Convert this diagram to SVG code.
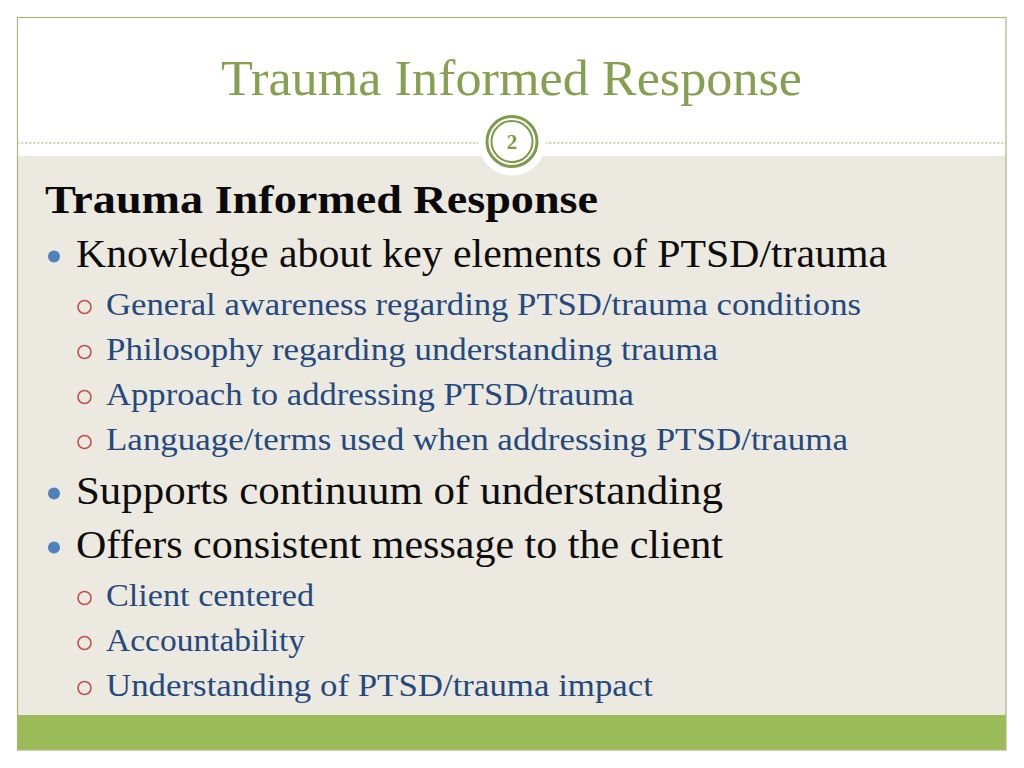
<svg xmlns="http://www.w3.org/2000/svg" width="1024" height="768" viewBox="0 0 1024 768">
<style>
.t{font-family:"Liberation Serif","Times New Roman",serif}
.title{font-size:50px;fill:#86a052}
.head{font-size:40px;font-weight:bold;fill:#0a0a0a}
.l1{font-size:40px;fill:#0d0d0d}
.l2{font-size:31px;fill:#24497f}
.dot{fill:#4f81bd}
.ring{fill:none;stroke:#c0504d;stroke-width:1.6}
</style>
<rect width="1024" height="768" fill="#ffffff"/>
<rect x="17" y="156" width="989" height="559" fill="#ece9e0"/>
<rect x="17" y="715" width="989" height="35" fill="#9bbb59"/>
<line x1="17" y1="143" x2="1006" y2="143" stroke="#a9b97e" stroke-width="1.2" stroke-dasharray="2.5 1.5"/>
<rect x="17.5" y="17.5" width="988.5" height="732.5" fill="none" stroke="#a8b87c" stroke-width="1.2"/>
<g id="pagenum">
<circle cx="512" cy="141.5" r="34" fill="#ffffff"/>
<circle cx="512" cy="141.5" r="25" fill="none" stroke="#7f9a48" stroke-width="3"/>
<circle cx="512" cy="141.5" r="20.5" fill="none" stroke="#7f9a48" stroke-width="2"/>
<text class="t" x="512" y="149" font-size="21" font-weight="bold" fill="#7f9a48" text-anchor="middle">2</text>
</g>
<g id="title">
<text class="t title" x="221" y="95" textLength="581" lengthAdjust="spacingAndGlyphs">Trauma Informed Response</text>
</g>
<g id="body">
<text class="t head" x="45" y="213" textLength="553" lengthAdjust="spacingAndGlyphs">Trauma Informed Response</text>

<circle class="dot" cx="54" cy="256.5" r="6"/>
<text class="t l1" x="76" y="267" textLength="811" lengthAdjust="spacingAndGlyphs">Knowledge about key elements of PTSD/trauma</text>

<circle class="ring" cx="84.5" cy="307" r="6.5"/>
<text class="t l2" x="106" y="315" textLength="755" lengthAdjust="spacingAndGlyphs">General awareness regarding PTSD/trauma conditions</text>
<circle class="ring" cx="84.5" cy="352" r="6.5"/>
<text class="t l2" x="106" y="360" textLength="612" lengthAdjust="spacingAndGlyphs">Philosophy regarding understanding trauma</text>
<circle class="ring" cx="84.5" cy="397" r="6.5"/>
<text class="t l2" x="106" y="405" textLength="528" lengthAdjust="spacingAndGlyphs">Approach to addressing PTSD/trauma</text>
<circle class="ring" cx="84.5" cy="442" r="6.5"/>
<text class="t l2" x="106" y="450" textLength="742" lengthAdjust="spacingAndGlyphs">Language/terms used when addressing PTSD/trauma</text>

<circle class="dot" cx="54" cy="493.5" r="6"/>
<text class="t l1" x="76" y="504" textLength="647" lengthAdjust="spacingAndGlyphs">Supports continuum of understanding</text>
<circle class="dot" cx="54" cy="547.5" r="6"/>
<text class="t l1" x="76" y="558" textLength="647" lengthAdjust="spacingAndGlyphs">Offers consistent message to the client</text>

<circle class="ring" cx="84.5" cy="598" r="6.5"/>
<text class="t l2" x="106" y="606" textLength="208" lengthAdjust="spacingAndGlyphs">Client centered</text>
<circle class="ring" cx="84.5" cy="643" r="6.5"/>
<text class="t l2" x="106" y="651" textLength="199" lengthAdjust="spacingAndGlyphs">Accountability</text>
<circle class="ring" cx="84.5" cy="688" r="6.5"/>
<text class="t l2" x="106" y="696" textLength="547" lengthAdjust="spacingAndGlyphs">Understanding of PTSD/trauma impact</text>
</g>
</svg>
